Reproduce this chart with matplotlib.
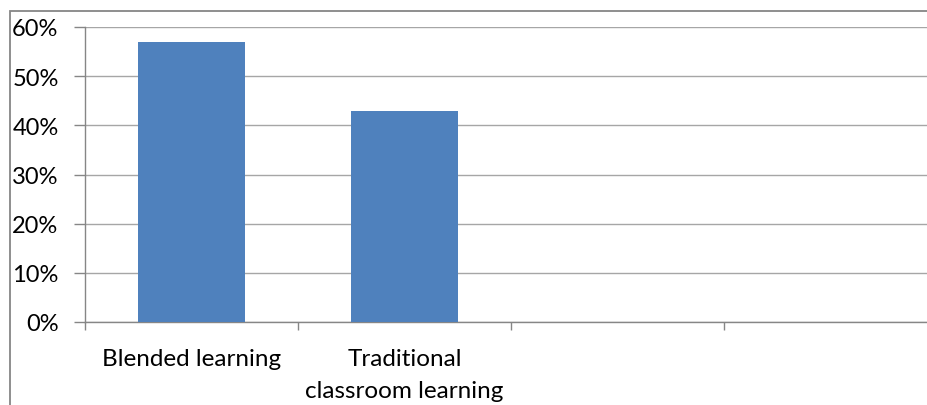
import matplotlib.pyplot as plt
from matplotlib.patches import Rectangle
from matplotlib.ticker import FuncFormatter, FixedLocator

categories = ["Blended learning", "Traditional\nclassroom learning", "", ""]
values = [0.57, 0.43, None, None]
yticks = [0, 0.1, 0.2, 0.3, 0.4, 0.5, 0.6]

plt.rcParams['font.family'] = ['Lato', 'DejaVu Sans']

W, H = 928, 406
fig = plt.figure(figsize=(W / 100, H / 100), dpi=100)

# chart border (runs off right/bottom edges like the cropped original)
fig.patches.append(Rectangle((10 / W, -0.1), 1.2, (H - 12) / H + 0.1,
                             transform=fig.transFigure, fill=False,
                             edgecolor='#868686', linewidth=1.3))

left, right, bottom, top = 85, 937, 323, 28
ax = fig.add_axes([left / W, (H - bottom) / H, (right - left) / W, (bottom - top) / H])

xs = [i for i, v in enumerate(values) if v is not None]
ax.bar(xs, [values[i] for i in xs], width=0.5, color='#4f81bd', zorder=3)

ax.set_xlim(-0.5, len(categories) - 0.5)
ax.set_ylim(0, 0.6)
ax.set_yticks(yticks)
ax.yaxis.set_major_formatter(FuncFormatter(lambda v, p: f"{v * 100:.0f}%"))
ax.grid(axis='y', color='#a6a6a6', linewidth=1.0, zorder=0)

ax.xaxis.set_major_locator(FixedLocator([i - 0.5 for i in range(len(categories) + 1)]))
ax.xaxis.set_major_formatter(FuncFormatter(lambda v, p: ""))
ax.xaxis.set_minor_locator(FixedLocator(range(len(categories))))
ax.set_xticklabels(categories, minor=True)
ax.tick_params(axis='x', which='minor', length=0, pad=19, labelsize=17.5)
ax.tick_params(axis='x', which='major', length=6, color='#868686', width=1)
ax.tick_params(axis='y', length=8, color='#868686', width=1, labelsize=17, pad=11)
for lab in ax.get_xticklabels(minor=True):
    lab.set_multialignment('center')
    lab.set_linespacing(1.6)

for s in ['top', 'right']:
    ax.spines[s].set_visible(False)
for s in ['left', 'bottom']:
    ax.spines[s].set_color('#868686')
    ax.spines[s].set_linewidth(1)

fig.savefig('out.png', dpi=100)
